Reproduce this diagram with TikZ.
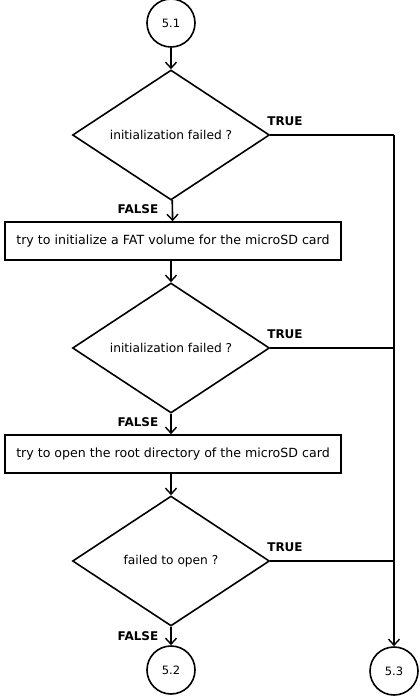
\documentclass[tikz,border=0pt]{standalone}
\usepackage{fontspec}
\setmainfont{DejaVu Sans}
\usetikzlibrary{shapes.geometric,arrows.meta}
\begin{document}
\begin{tikzpicture}[x=1pt,y=-1pt,
  line width=1.6pt,
  conn/.style={-{Straight Barb[length=6pt,width=11pt,line width=1.4pt]}},
  term/.style={circle,draw,minimum size=48pt,inner sep=0pt,font=\fontsize{11.5}{13}\selectfont},
  dec/.style={diamond,draw,minimum width=197pt,minimum height=130pt,inner sep=0pt,aspect=1.5,font=\fontsize{12.2}{14}\selectfont},
  proc/.style={rectangle,draw,minimum width=336pt,minimum height=38pt,inner sep=0pt,font=\fontsize{12.6}{14}\selectfont},
  lbl/.style={font=\bfseries\fontsize{12}{14}\selectfont,inner sep=0pt}]
\useasboundingbox (0,0) rectangle (420,696);
\node[term] (c51) at (171,23) {5.1};
\node[dec] (d1) at (171,135) {initialization failed ?};
\node[proc] (p1) at (173,241) {try to initialize a FAT volume for the microSD card};
\node[dec] (d2) at (171,348) {initialization failed ?};
\node[proc] (p2) at (173,454) {try to open the root directory of the microSD card};
\node[dec] (d3) at (171,561) {failed to open ?};
\node[term] (c52) at (171,670) {5.2};
\node[term] (c53) at (394,671) {5.3};
\coordinate (j1) at (394,135);
\coordinate (j2) at (394,348);
\coordinate (j3) at (394,561);
\draw[conn] (c51) -- (d1);
\draw[conn] (d1) -- (p1);
\draw[conn] (p1.south -| d1.south) -- (d2);
\draw[conn] (d2) -- (p2.north -| d2.north);
\draw[conn] (p2.south -| d2.south) -- (d3);
\draw[conn] (d3) -- (c52);
\draw (d1.east) -- (j1);
\draw[conn] (j1) -- (c53);
\draw (d2.east) -- (j2);
\draw (d3.east) -- (j3);
\node[lbl] (t1) at (285,121) {TRUE};
\node[lbl] (f1) at (138,209) {FALSE};
\node[lbl] (t2) at (285,334) {TRUE};
\node[lbl] (f2) at (138,422) {FALSE};
\node[lbl] (t3) at (285,547) {TRUE};
\node[lbl] (f3) at (138,636) {FALSE};
\end{tikzpicture}
\end{document}
